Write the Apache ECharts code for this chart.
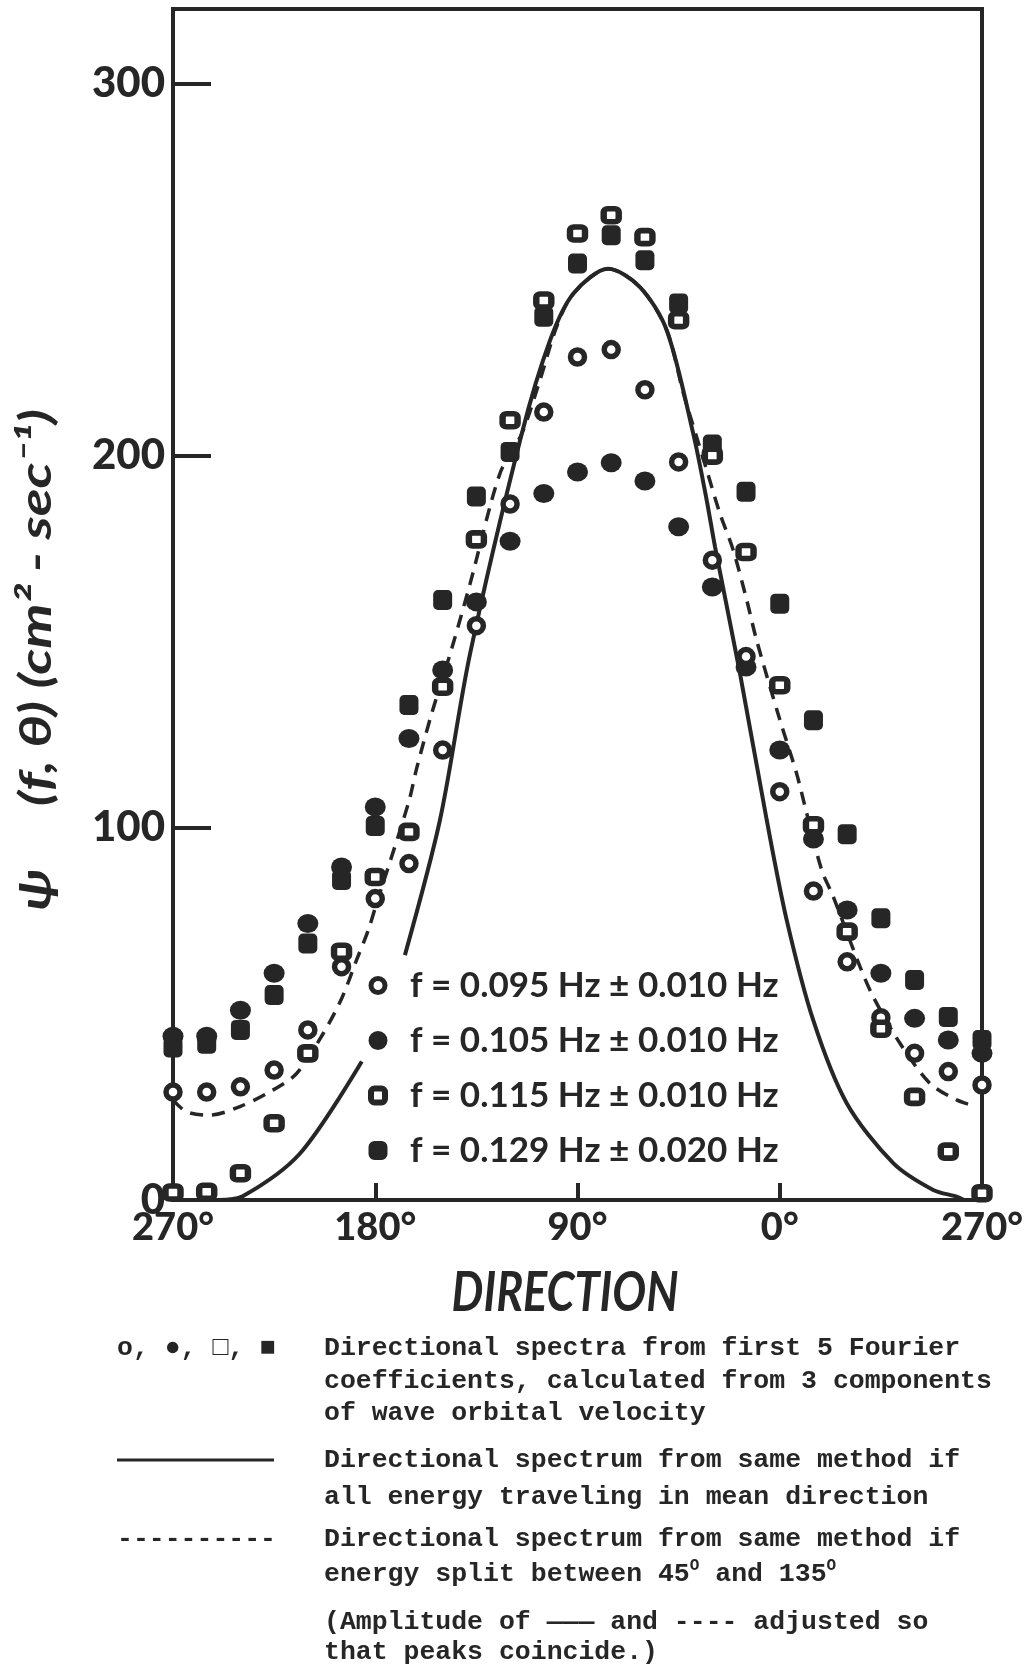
<!DOCTYPE html>
<html><head><meta charset="utf-8">
<script src="https://cdn.jsdelivr.net/npm/echarts@6/dist/echarts.min.js"></script>
<style>html,body{margin:0;padding:0;background:#fff}#c{width:1036px;height:1664px}</style>
</head><body><div id="c"></div>
<script>
// ---------- data ----------
// Direction along the axis, left to right: 270° ... 0° ... -90° (= 270°)
const DIRS = [270,255,240,225,210,195,180,165,150,135,120,105,90,75,60,45,30,15,0,-15,-30,-45,-60,-75,-90];
const OPEN_CIRCLE   = [29,29,30.4,34.9,45.7,62.7,81.0,90.4,120.9,154.3,187,211.7,226.5,228.5,217.7,198.3,171.9,146,109.7,83,64.0,49,39.4,34.5,30.9];
const FILLED_CIRCLE = [44,44,51,60.9,74.3,89.5,105.6,124,142.4,160.7,177,189.8,195.6,198.1,193.2,180.9,164.7,143.2,120.9,97,77.9,60.9,48.8,43.0,39.4];
const OPEN_SQUARE   = [2,2.2,7.2,20.6,39.4,66.7,86.8,98.9,137.9,177.5,209.5,241.7,259.7,264.6,258.7,236.4,200,174.1,138.3,100.7,72.1,46,27.7,13.0,1.8];
const FILLED_SQUARE = [41,42,45.7,55.1,68.9,86,100.5,133,161.2,189,201,237.3,251.6,259.2,252.5,240.9,203,190.3,160.2,128.9,98.3,75.7,59.1,49.2,43.0];

// solid curve (all energy in mean direction); null = gap in the drawn line
const SOLID_DIR = [250,239,213.5,186,176,166.8,151.2,137.8,114.8,102.2,91.9,76.3,62.2,50.3,38.5,32.5,28.8,17.7,5.8,-3.1,-14.9,-29.8,-50.5,-68.3,-78.7,-82];
const SOLID_VAL = [0,1,12.5,37.2,null,65.8,102.1,146.8,205.9,231,243.5,250.2,245.3,233.7,205.9,188,175.5,141.5,102.1,75.2,48.3,26,9.9,2.7,0.9,0];

// dashed curve (energy split between 45° and 135°)
const DASH_DIR = [270,264,253.5,240.2,226.8,215,203.1,194.9,188.3,183.1,179.4,165.3,161.6,154.9,146,137.8,124.5,114.8,106.7,99.3,91.9,76.3,62.2,50.3,43,37,32.5,26.6,20.7,14.7,10.3,-0.1,-7.5,-12,-18.7,-23.8,-35.7,-41.6,-53.5,-66.9,-78.7,-87.6];
const DASH_VAL = [26.9,23.7,22.8,25.1,29.1,34,44.8,54.2,64.5,72.5,79.7,106.5,115.9,130.7,148.1,165.6,195.2,205.9,220.3,234.6,243.5,250.2,245.3,233.7,217,205,196.1,184.4,174.6,161.2,150.4,128.9,114.6,103.9,88.6,81.5,62.7,54.6,42.1,31.3,26.9,25.1];

const LABELS = ['f = 0.095 Hz ± 0.010 Hz','f = 0.105 Hz ± 0.010 Hz','f = 0.115 Hz ± 0.010 Hz','f = 0.129 Hz ± 0.020 Hz'];
const Y_TITLE = 'ψ     (f, θ) (cm² - sec⁻¹)';
const X_TITLE = 'DIRECTION';
const NOTES = [
  'Directional spectra from first 5 Fourier',
  'coefficients, calculated from 3 components',
  'of wave orbital velocity',
  'Directional spectrum from same method if',
  'all energy traveling in mean direction',
  'Directional spectrum from same method if',
  'energy split between 45{s|O} and 135{s|O}',
  '(Amplitude of ——— and ---- adjusted so',
  'that peaks coincide.)'
];

// ---------- drawing ----------
const INK = '#262626';
const pairs = (xs, ys) => xs.map((x, i) => [x, ys[i] === null ? '-' : ys[i]]);
const chart = echarts.init(document.getElementById('c'), null, {renderer: 'canvas', width: 1036, height: 1664});
const geo = 'Lato, "Noto Sans", sans-serif';
const mono = '"Liberation Mono", "DejaVu Sans Mono", monospace';

const noteY = [1348, 1381, 1413, 1460, 1497, 1539, 1574, 1622, 1652];
const graphics = NOTES.map((t, i) => ({
  type: 'text', x: 324, y: noteY[i], z: 10,
  style: {
    text: t, font: 'bold 26.5px ' + mono, fill: INK,
    textVerticalAlign: 'middle', verticalAlign: 'middle',
    rich: { s: { font: 'bold 16px ' + mono, fill: INK, verticalAlign: 'top', padding: [0, 0, 16, 0] } }
  }
}));
graphics.push(
  {type: 'text', x: 117, y: 1348, style: {text: 'o, ●, □, ■', font: 'bold 26.5px ' + mono, fill: INK, textVerticalAlign: 'middle', verticalAlign: 'middle'}},
  {type: 'line', shape: {x1: 117, y1: 1460, x2: 274, y2: 1460}, style: {stroke: INK, lineWidth: 3}},
  {type: 'text', x: 117, y: 1539, style: {text: '----------', font: 'bold 26.5px ' + mono, fill: INK, textVerticalAlign: 'middle', verticalAlign: 'middle'}},
  {type: 'text', x: 565, y: 1293, scaleY: 1.25, originX: 0, originY: 0,
   style: {text: X_TITLE, font: 'italic bold 45px ' + geo, fill: INK, textAlign: 'center', align: 'center', textVerticalAlign: 'middle', verticalAlign: 'middle'}},
  {type: 'text', x: 37, y: 660, rotation: Math.PI / 2, scaleX: 1.3, originX: 0, originY: 0,
   style: {text: Y_TITLE, font: 'italic bold 44px ' + geo, fill: INK, textAlign: 'center', align: 'center', textVerticalAlign: 'middle', verticalAlign: 'middle'}}
);

const labelFont = {fontFamily: geo, fontWeight: 900, color: INK};
chart.setOption({
  animation: false,
  backgroundColor: '#ffffff',
  grid: {left: 173, right: 54, top: 9, bottom: 464, show: true, borderColor: INK, borderWidth: 4, backgroundColor: 'transparent'},
  xAxis: {
    type: 'value', min: -90, max: 270, interval: 90, inverse: true,
    axisLine: {show: false, onZero: false}, splitLine: {show: false},
    axisTick: {inside: true, length: 17, lineStyle: {color: INK, width: 4}},
    axisLabel: Object.assign({margin: 9, fontSize: 38, formatter: v => (v < 0 ? v + 360 : v) + '°'}, labelFont)
  },
  yAxis: {
    type: 'value', min: 0, max: 320, interval: 100,
    axisLine: {show: false, onZero: false}, splitLine: {show: false},
    axisTick: {inside: true, length: 38, lineStyle: {color: INK, width: 4}},
    axisLabel: Object.assign({margin: 8, fontSize: 42, formatter: v => (v % 100 === 0 ? String(v) : '')}, labelFont)
  },
  legend: {
    orient: 'vertical', left: 363, top: 959, itemWidth: 14, itemHeight: 14, itemGap: 12,
    selectedMode: false,
    textStyle: {fontFamily: geo, fontWeight: 'bold', fontSize: 35, color: INK, lineHeight: 43, padding: [0, 0, 0, 20]},
    data: [
      {name: LABELS[0], icon: 'circle', itemStyle: {color: '#fff', borderColor: INK, borderWidth: 5, opacity: 1}},
      {name: LABELS[1], icon: 'circle', itemStyle: {color: INK, borderColor: INK, borderWidth: 5, opacity: 1}},
      {name: LABELS[2], icon: 'roundRect', itemStyle: {color: '#fff', borderColor: INK, borderWidth: 6, opacity: 1}},
      {name: LABELS[3], icon: 'roundRect', itemStyle: {color: INK, borderColor: INK, borderWidth: 5, opacity: 1}}
    ]
  },
  graphic: graphics,
  series: [
    {type: 'line', data: pairs(SOLID_DIR, SOLID_VAL), smooth: 0.3, symbol: 'none', connectNulls: false, silent: true, z: 2,
     lineStyle: {color: INK, width: 4}},
    {type: 'line', data: pairs(DASH_DIR, DASH_VAL), smooth: 0.3, symbol: 'none', silent: true, z: 2,
     lineStyle: {color: INK, width: 3.5, type: [13, 9]}},
    {name: LABELS[1], type: 'scatter', data: pairs(DIRS, FILLED_CIRCLE), symbol: 'circle', symbolSize: [21, 19], z: 3,
     itemStyle: {color: INK, opacity: 1}},
    {name: LABELS[3], type: 'scatter', data: pairs(DIRS, FILLED_SQUARE), symbol: 'roundRect', symbolSize: [19, 20], z: 3,
     itemStyle: {color: INK, opacity: 1}},
    {name: LABELS[0], type: 'scatter', data: pairs(DIRS, OPEN_CIRCLE), symbol: 'circle', symbolSize: 14, z: 4,
     itemStyle: {color: '#fff', borderColor: INK, borderWidth: 5.5, opacity: 1}},
    {name: LABELS[2], type: 'scatter', data: pairs(DIRS, OPEN_SQUARE), symbol: 'roundRect', symbolSize: [15, 13], z: 4,
     itemStyle: {color: '#fff', borderColor: INK, borderWidth: 6, opacity: 1}}
  ]
});
</script></body></html>
